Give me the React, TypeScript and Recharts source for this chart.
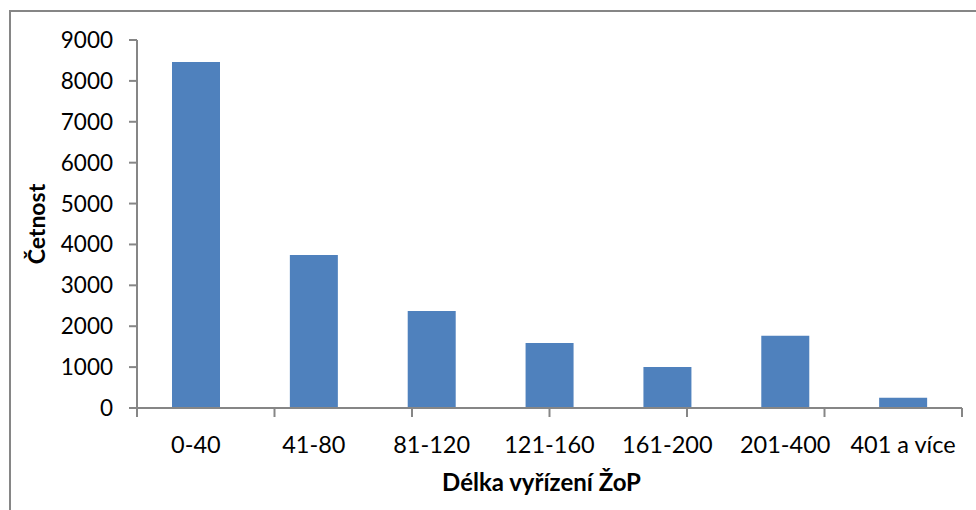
import React from 'react'
import { BarChart, Bar, XAxis, YAxis } from 'recharts'

const categories = ['0-40', '41-80', '81-120', '121-160', '161-200', '201-400', '401 a více']
const counts = [8460, 3740, 2370, 1590, 1000, 1770, 250]
const yTicks = [0, 1000, 2000, 3000, 4000, 5000, 6000, 7000, 8000, 9000]
const boundaryTicks = [0, 1, 2, 3, 4, 5, 6, 7]

const data = categories.map((name, i) => ({ name, value: counts[i] }))

const GRAY = '#868686'
const FONT = 'Lato, "Open Sans", sans-serif'

const App = () => (
  <div
    style={{
      position: 'absolute',
      left: 0,
      top: 0,
      width: 976,
      height: 510,
      overflow: 'hidden',
      background: '#fff',
    }}>
    <div
      style={{
        position: 'absolute',
        left: 9,
        top: 10,
        width: 1200,
        height: 800,
        borderLeft: `2px solid ${GRAY}`,
        borderTop: `2px solid ${GRAY}`,
      }}
    />
    <div style={{ position: 'absolute', left: 0, top: 0 }}>
      <BarChart
        width={976}
        height={510}
        data={data}
        margin={{ top: 40, right: 14, bottom: 0, left: 0 }}>
        <XAxis
          xAxisId="bounds"
          type="number"
          domain={[0, 7]}
          ticks={boundaryTicks}
          allowDataOverflow
          interval={0}
          height={1}
          tick={() => <g />}
          tickLine={{ stroke: GRAY, strokeWidth: 2 }}
          tickSize={9}
          stroke={GRAY}
          strokeWidth={2}
        />
        <XAxis
          xAxisId="cat"
          dataKey="name"
          height={101}
          axisLine={false}
          tickLine={false}
          tickSize={0}
          tickMargin={27}
          interval={0}
          tick={{ fill: '#000', fontSize: 23.5, fontFamily: FONT }}
          label={({ viewBox }: any) => (
            <text
              x={viewBox.x + viewBox.width / 2 - 8}
              y={viewBox.y + 82}
              textAnchor="middle"
              fontFamily={FONT}
              fontWeight="bold"
              fontSize={24}
              fill="#000">
              Délka vyřízení ŽoP
            </text>
          )}
        />
        <YAxis
          width={137}
          domain={[0, 9000]}
          ticks={yTicks}
          interval={0}
          tickSize={8}
          tickMargin={16}
          stroke={GRAY}
          strokeWidth={2}
          tick={{ fill: '#000', fontSize: 22.5, fontFamily: FONT }}
          label={({ viewBox }: any) => (
            <text
              x={viewBox.x + 45}
              y={viewBox.y + viewBox.height / 2}
              transform={`rotate(-90 ${viewBox.x + 45} ${viewBox.y + viewBox.height / 2})`}
              textAnchor="middle"
              fontFamily={FONT}
              fontWeight="bold"
              fontSize={23}
              fill="#000">
              Četnost
            </text>
          )}
        />
        <Bar
          xAxisId="cat"
          dataKey="value"
          fill="#4F81BD"
          barSize={48}
          isAnimationActive={false}
        />
      </BarChart>
    </div>
  </div>
)

export default App
